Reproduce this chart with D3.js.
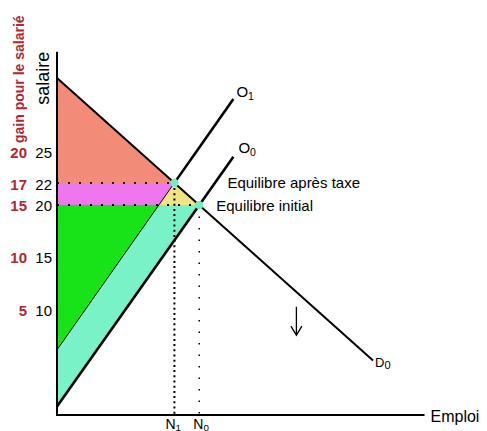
<!DOCTYPE html>
<html>
<head>
<meta charset="utf-8">
<script src="https://cdn.jsdelivr.net/npm/d3@7"></script>
<style>
  body { margin: 0; background: #fff; }
  svg { display: block; font-family: "Liberation Sans", Arial, sans-serif; }
</style>
</head>
<body>
<div id="chart"></div>
<script>
// curves as [emploi, salaire] end points
var demand = [[0, 32.1], [30.1, 5.2]];
var supply0 = [[0, 0.8], [16.8, 24.6]];
var supply1 = [[0, 6.2], [16.8, 30.1]];

// salary ticks and the matching gain for the worker
var salaryTicks = [25, 22, 20, 15, 10];
var gainTicks = [20, 17, 15, 10, 5];

var labelInitial = "Equilibre initial";
var labelTax = "Equilibre après taxe";

var width = 487, height = 431;

var x = d3.scaleLinear().domain([0, 35]).range([57, 424.5]);
var y = d3.scaleLinear().domain([0, 34.6]).range([415, 51.7]);

function lineFn(pts) {
  var s = (pts[1][1] - pts[0][1]) / (pts[1][0] - pts[0][0]);
  return { a: pts[0][1], b: s, at: function(n) { return this.a + this.b * n; }, inv: function(w) { return (w - this.a) / this.b; } };
}
function cross(l1, l2) {
  var n = (l2.a - l1.a) / (l1.b - l2.b);
  return [n, l1.at(n)];
}

var D = lineFn(demand), O0 = lineFn(supply0), O1 = lineFn(supply1);
var eq0 = cross(D, O0);   // initial
var eq1 = cross(D, O1);   // after tax
var nCut = O1.inv(eq0[1]); // O1 at the initial wage

var svg = d3.select("#chart").append("svg")
    .attr("width", width)
    .attr("height", height);

var poly = d3.line().x(function(d) { return x(d[0]); }).y(function(d) { return y(d[1]); });

// shaded areas
var areas = [
  { pts: [[0, D.at(0)], eq1, [0, eq1[1]]], fill: "#f28c78" },
  { pts: [[0, eq1[1]], eq1, [nCut, eq0[1]], [0, eq0[1]]], fill: "#ee77ee" },
  { pts: [eq1, [nCut, eq0[1]], eq0], fill: "#f2e482" },
  { pts: [[0, eq0[1]], [nCut, eq0[1]], [0, O1.at(0)]], fill: "#18e218" },
  { pts: [[0, O1.at(0)], [nCut, eq0[1]], eq0, [0, O0.at(0)]], fill: "#7af2c8" }
];
svg.append("g").selectAll("path")
  .data(areas)
  .enter().append("path")
    .attr("d", function(d) { return poly(d.pts) + "Z"; })
    .attr("fill", function(d) { return d.fill; });

// dotted guides
svg.append("path")
    .attr("d", poly([[0, eq1[1]], eq1]))
    .attr("stroke", "#000").attr("stroke-width", 2).attr("stroke-dasharray", "2,9").attr("fill", "none");
svg.append("path")
    .attr("d", poly([[0, eq0[1]], eq0]))
    .attr("stroke", "#000").attr("stroke-width", 2).attr("stroke-dasharray", "2,9").attr("fill", "none");
svg.append("path")
    .attr("d", poly([eq1, [eq1[0], 0]]))
    .attr("stroke", "#000").attr("stroke-width", 2).attr("stroke-dasharray", "2,3.2").attr("fill", "none");
svg.append("path")
    .attr("d", poly([eq0, [eq0[0], 0]]))
    .attr("stroke", "#000").attr("stroke-width", 1.5).attr("stroke-dasharray", "1.5,10").attr("fill", "none");

// curves
svg.append("path").attr("d", poly(demand))
    .attr("stroke", "#000").attr("stroke-width", 2).attr("fill", "none");
svg.append("path").attr("d", poly(supply0))
    .attr("stroke", "#000").attr("stroke-width", 2.6).attr("fill", "none");
svg.append("path").attr("d", poly([supply1[0], eq1]))
    .attr("stroke", "#000").attr("stroke-width", 1).attr("fill", "none");
svg.append("path").attr("d", poly([eq1, supply1[1]]))
    .attr("stroke", "#000").attr("stroke-width", 2.6).attr("fill", "none");

// axes
svg.append("path")
    .attr("d", "M" + x(0) + "," + y(34.6) + "V" + y(0) + "H" + x(35))
    .attr("stroke", "#000").attr("stroke-width", 2).attr("fill", "none");

// equilibrium points
svg.append("g").selectAll("circle")
  .data([eq1, eq0])
  .enter().append("circle")
    .attr("cx", function(d) { return x(d[0]); })
    .attr("cy", function(d) { return y(d[1]); })
    .attr("r", 4.2)
    .attr("fill", "#74ecc4");

// labels
svg.append("text").attr("x", x(eq1[0]) + 53).attr("y", y(eq1[1]) + 5)
    .attr("font-size", 15).text(labelTax);
svg.append("text").attr("x", x(eq0[0]) + 17).attr("y", y(eq0[1]) + 5.5)
    .attr("font-size", 15).text(labelInitial);

function subLabel(px, py, main, sub, size, subScale, subDy) {
  var t = svg.append("text").attr("x", px).attr("y", py).attr("font-size", size);
  t.append("tspan").text(main);
  t.append("tspan").attr("font-size", size * subScale).attr("dy", subDy).text(sub);
}
subLabel(x(supply1[1][0]) + 3, y(supply1[1][1]) - 2, "O", "1", 15, 0.7, 3.5);
subLabel(x(supply0[1][0]) + 5, y(supply0[1][1]) - 4, "O", "0", 15, 0.7, 3.5);
subLabel(x(demand[1][0]) + 2, y(demand[1][1]) + 7, "D", "0", 13, 0.85, 1.5);
subLabel(x(eq1[0]) - 9, y(0) + 13.5, "N", "1", 14, 0.7, 2);
subLabel(x(eq0[0]) - 6, y(0) + 13.5, "N", "0", 14, 0.7, 2);

svg.append("text").attr("x", x(35) + 6).attr("y", y(0) + 6.5)
    .attr("font-size", 16).text("Emploi");

svg.append("text")
    .attr("transform", "translate(49," + y(34.6) + ") rotate(-90)")
    .attr("text-anchor", "end")
    .attr("font-size", 18).text("salaire");

svg.append("text")
    .attr("transform", "translate(24,143) rotate(-90)")
    .attr("font-size", 14).attr("font-weight", "bold")
    .attr("fill", "#b22630").text("gain pour le salarié");

// tick labels
svg.append("g").selectAll("text")
  .data(salaryTicks)
  .enter().append("text")
    .attr("x", 52)
    .attr("y", function(d) { return y(d) + 5.5; })
    .attr("text-anchor", "end")
    .attr("font-size", 15)
    .text(function(d) { return d; });
svg.append("g").selectAll("text")
  .data(gainTicks)
  .enter().append("text")
    .attr("x", 27)
    .attr("y", function(d, i) { return y(salaryTicks[i]) + 5.5; })
    .attr("text-anchor", "end")
    .attr("font-size", 15)
    .attr("font-weight", "bold")
    .attr("fill", "#b22630")
    .text(function(d) { return d; });

// downward arrow
var ax = x(22.8);
svg.append("path")
    .attr("d", "M" + ax + "," + y(10.3) + "V" + y(7.6)
      + "M" + (ax - 5.5) + "," + (y(7.6) - 9) + "L" + ax + "," + y(7.6) + "L" + (ax + 5.5) + "," + (y(7.6) - 9))
    .attr("stroke", "#000").attr("stroke-width", 1.3).attr("fill", "none");
</script>
</body>
</html>
